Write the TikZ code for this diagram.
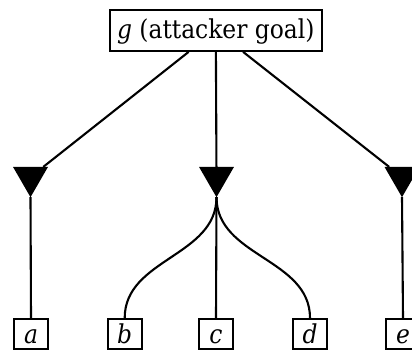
\documentclass[tikz,border=0pt]{standalone}
\usepackage{fontspec}
\setmainfont{DejaVu Serif Condensed}
\usetikzlibrary{shapes.geometric}
\begin{document}
\begin{tikzpicture}[x=1pt,y=-1pt,
  every node/.style={font=\fontsize{26}{31}\selectfont},
  goalbox/.style={draw, line width=2pt, minimum width=212pt, minimum height=41pt,
    inner sep=0pt, text height=19pt, text depth=3.2pt},
  leaf/.style={draw, line width=2pt, minimum width=34pt, minimum height=30pt,
    inner sep=0pt, text height=19pt, text depth=1pt},
  gate/.style={regular polygon, regular polygon sides=3, shape border rotate=180,
    fill=black, minimum size=40.4pt, inner sep=0pt, outer sep=0pt},
  link/.style={line width=2.1pt}]
  \useasboundingbox (0,0) rectangle (412,352);

  % root goal
  \node[goalbox] (g) at (215.8,30.4) {\textit{g} (attacker goal)};

  % gates below the goal
  \node[gate] (t1) at (30.5,177) {};
  \node[gate] (t2) at (216.5,177) {};
  \node[gate] (t3) at (402,177) {};

  % leaves
  \node[leaf] (a) at (31,334) {\textit{a}};
  \node[leaf] (b) at (124.7,334) {\textit{b}};
  \node[leaf] (c) at (216,334) {\textit{c}};
  \node[leaf] (d) at (310,334) {\textit{d}};
  \node[leaf] (e) at (403,334) {\textit{e}};

  % connectors
  \draw[link] (g) -- (t1);
  \draw[link] (g) -- (t2);
  \draw[link] (g) -- (t3);
  \draw[link] (t1.corner 1) -- (a.north);
  \draw[link] (t2.corner 1) to[out=-90,in=90] (b.north);
  \draw[link] (t2.corner 1) -- (c.north);
  \draw[link] (t2.corner 1) to[out=-90,in=90] (d.north);
  \draw[link] (t3.corner 1) -- (e.north);
\end{tikzpicture}
\end{document}
